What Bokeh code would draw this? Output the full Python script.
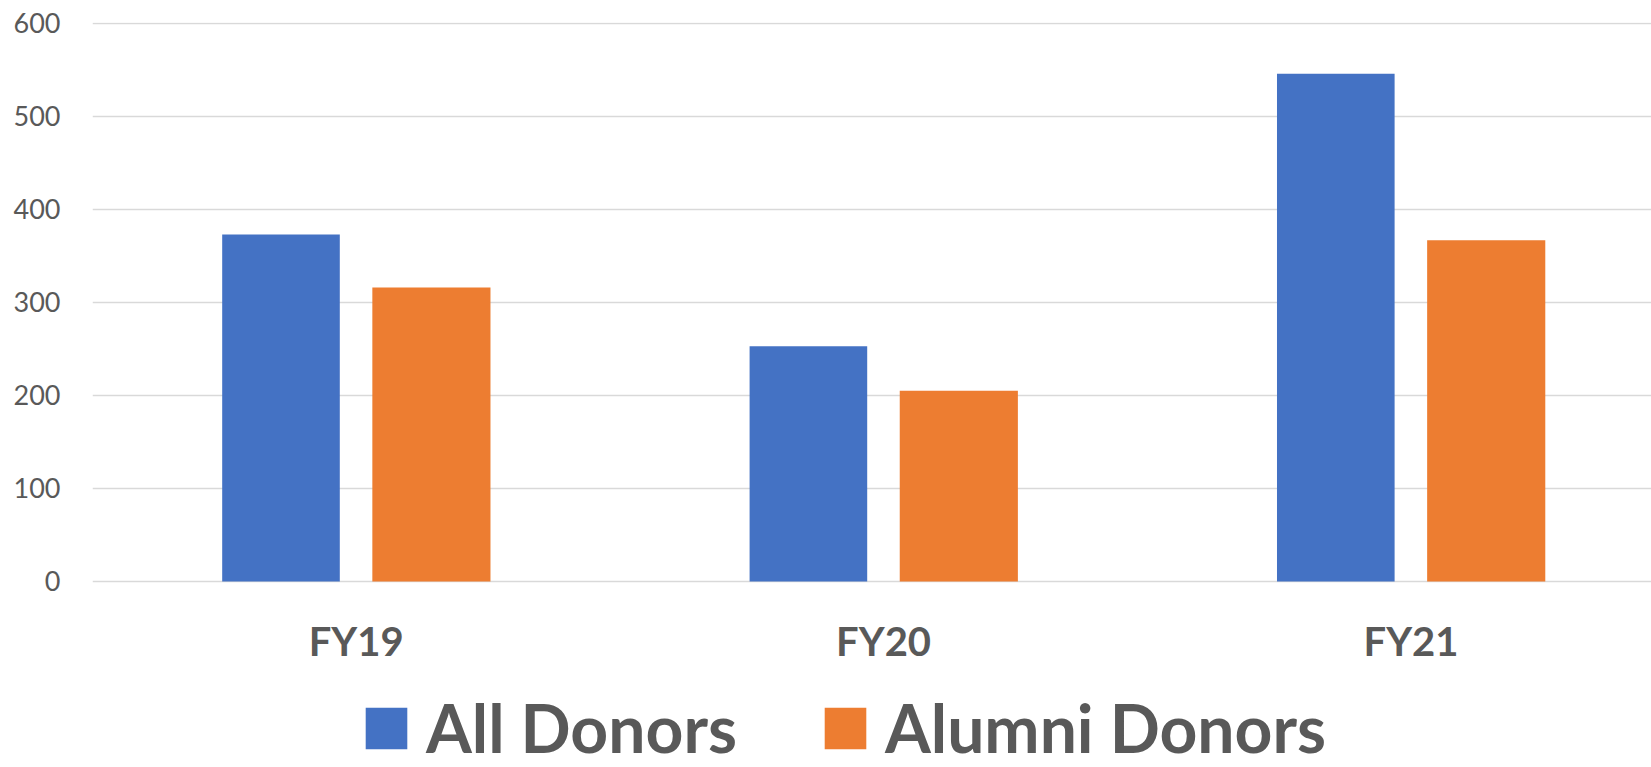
from bokeh.plotting import figure
from bokeh.models import Range1d, FixedTicker, Legend, LegendItem
from bokeh.transform import dodge
from bokeh.embed import file_html
from bokeh.resources import INLINE
from bokeh.models import ColumnDataSource

categories = ["FY19", "FY20", "FY21"]
all_donors = [373, 253, 546]
alumni_donors = [316, 205, 367]
y_ticks = [0, 100, 200, 300, 400, 500, 600]

BLUE = "#4472C4"
ORANGE = "#ED7D31"
TEXT = "#595959"
GRID = "#D9D9D9"
FONT = "Lato"

idx = list(range(len(categories)))
src = ColumnDataSource(dict(x=idx, all=all_donors, alumni=alumni_donors))

# frame extends below the zero line so the legend can live inside it
p = figure(width=1651, height=767, output_backend="svg", toolbar_location=None,
           x_range=Range1d(-0.5, 2.456), y_range=Range1d(-200, 601),
           min_border_left=92, min_border_right=0, min_border_top=22, min_border_bottom=0)
p.outline_line_color = None
p.background_fill_color = "white"
p.border_fill_color = "white"

r1 = p.vbar(x=dodge("x", -0.1426, range=p.x_range), top="all", width=0.223, source=src,
            fill_color=BLUE, line_color=None)
r2 = p.vbar(x=dodge("x", 0.1426, range=p.x_range), top="alumni", width=0.224, source=src,
            fill_color=ORANGE, line_color=None)

p.xgrid.grid_line_color = None
p.ygrid.ticker = FixedTicker(ticks=y_ticks)
p.ygrid.grid_line_color = GRID
p.ygrid.grid_line_width = 1.3

p.yaxis.ticker = FixedTicker(ticks=y_ticks)
p.yaxis.axis_line_color = None
p.yaxis.major_tick_line_color = None
p.yaxis.minor_tick_line_color = None
p.yaxis.major_label_text_font = FONT
p.yaxis.major_label_text_font_size = "27px"
p.yaxis.major_label_text_color = TEXT
p.yaxis.major_label_standoff = 26

p.xaxis.fixed_location = 0
p.xaxis.ticker = FixedTicker(ticks=idx)
p.xaxis.major_label_overrides = {i: c for i, c in zip(idx, categories)}
p.xaxis.axis_line_color = None
p.xaxis.major_tick_line_color = None
p.xaxis.minor_tick_line_color = None
p.xaxis.major_label_text_font = FONT
p.xaxis.major_label_text_font_style = "bold"
p.xaxis.major_label_text_font_size = "40px"
p.xaxis.major_label_text_color = TEXT
p.xaxis.major_label_standoff = 30

legend = Legend(items=[LegendItem(label="All Donors", renderers=[r1]),
                       LegendItem(label="Alumni Donors", renderers=[r2])],
                orientation="horizontal", location=(268, 0))
legend.label_text_font = FONT
legend.label_text_font_style = "bold"
legend.label_text_font_size = "66px"
legend.label_text_color = TEXT
legend.glyph_width = 52
legend.glyph_height = 52
legend.label_standoff = 14
legend.spacing = 82
legend.padding = 0
legend.margin = 0
legend.border_line_color = None
legend.background_fill_alpha = 0
p.add_layout(legend, "center")

open("out.html", "w").write(file_html(p, INLINE))
